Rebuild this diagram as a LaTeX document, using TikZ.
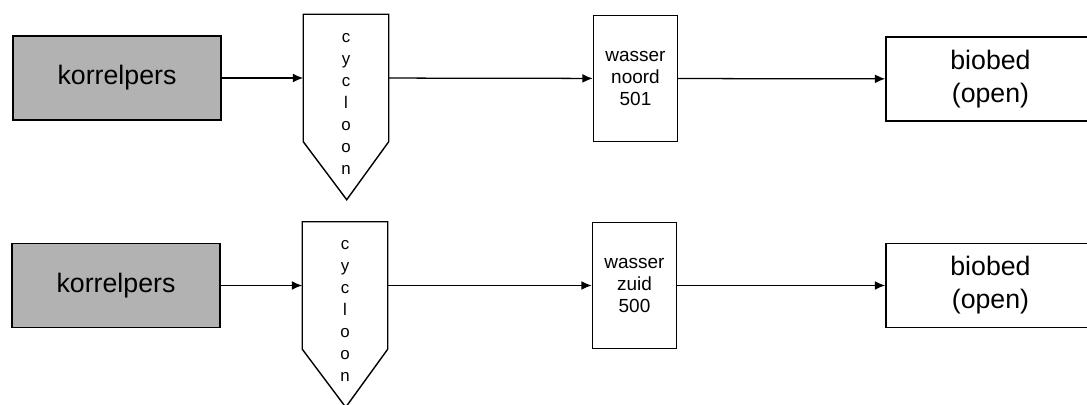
\documentclass[tikz,border=0pt]{standalone}
\usepackage{fontspec}
\setmainfont{Liberation Sans}
\usetikzlibrary{arrows.meta}
\begin{document}
\begin{tikzpicture}[x=0.025cm, y=-0.025cm, line width=1pt,
  persbox/.style={draw,fill=black!30,minimum width=5.2cm,minimum height=2.1cm,font=\fontsize{19}{23}\selectfont},
  cycbox/.style={minimum width=2.1cm,minimum height=3.15cm,inner sep=0pt},
  cyctext/.style={align=center,font=\fontsize{12}{15.6}\selectfont},
  wasbox/.style={draw,minimum width=2.1cm,minimum height=3.15cm,align=center,font=\fontsize{13.5}{15.5}\selectfont},
  biobox/.style={draw,minimum width=5.225cm,minimum height=2.1cm,align=center,font=\fontsize{19}{23.5}\selectfont},
  flow/.style={-{Latex[length=2.6mm,width=2.2mm]},line width=0.9pt}]
\clip (0,0) rectangle (1087,405);
% bovenste lijn
\node[persbox] (pers1) at (117,78) {korrelpers};
\node[cycbox] (cyc1) at (346,78) {};
\draw (cyc1.south west) -- (cyc1.north west) -- (cyc1.north east) -- (cyc1.south east) -- ++(-42,58) -- cycle;
\node[cyctext] (cyct1) at (346,104) {c\\y\\c\\l\\o\\o\\n};
\node[wasbox] (was1) at (635.5,78.5) {wasser\\noord\\501};
\node[biobox] (bio1) at (990.5,79) {biobed\\(open)};
\draw[flow] (pers1) -- (cyc1);
\draw[flow] (cyc1) -- (was1);
\draw[flow] (was1) -- (bio1);
% onderste lijn
\node[persbox] (pers2) at (116,285.5) {korrelpers};
\node[cycbox] (cyc2) at (345,285.5) {};
\draw (cyc2.south west) -- (cyc2.north west) -- (cyc2.north east) -- (cyc2.south east) -- ++(-42,58) -- cycle;
\node[cyctext] (cyct2) at (345,311) {c\\y\\c\\l\\o\\o\\n};
\node[wasbox] (was2) at (634.5,285.5) {wasser\\zuid\\500};
\node[biobox] (bio2) at (990.5,285.5) {biobed\\(open)};
\draw[flow] (pers2) -- (cyc2);
\draw[flow] (cyc2) -- (was2);
\draw[flow] (was2) -- (bio2);
\end{tikzpicture}
\end{document}
